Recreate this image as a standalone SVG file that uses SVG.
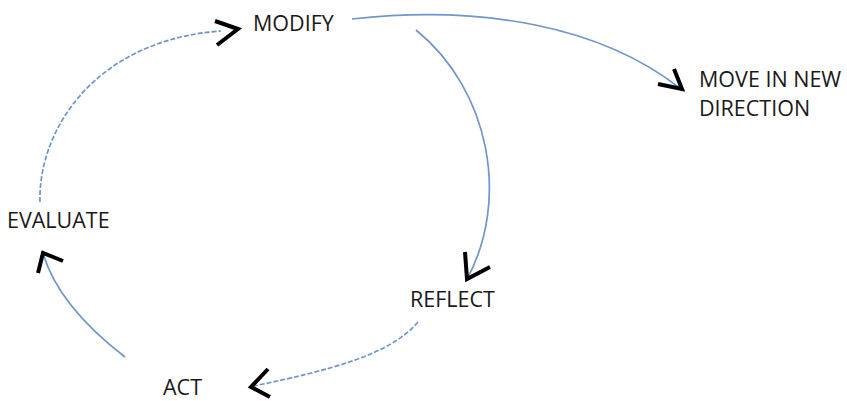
<svg xmlns="http://www.w3.org/2000/svg" width="847" height="401" viewBox="0 0 847 401">
<style>
.lbl{font-family:"Open Sans","Liberation Sans",sans-serif;font-size:21.5px;fill:#1a1a1a}
.c{fill:none;stroke:#6f95cc;stroke-width:1.7}
.d{stroke-dasharray:5 2}
.h{fill:none;stroke:#000;stroke-width:4;stroke-linecap:butt;stroke-linejoin:miter}
</style>
<rect width="847" height="401" fill="#fff"/>
<g id="connectors">
<path class="c d" d="M40,202 C38,130 95,40 221,31"/>
<path class="h" d="M215,21 L238,29 L217,45"/>
<path class="c" d="M352,19 C480,5 600,25 681,89"/>
<path class="h" d="M658,84 L682,89 L674,69"/>
<path class="c" d="M416,30 C490,90 510,200 467,279"/>
<path class="h" d="M465,252 L467,279 L490,267"/>
<path class="c d" d="M418,322 C390,355 330,370 254,386"/>
<path class="h" d="M268,369 L251,387 L270,397"/>
<path class="c" d="M125,357 C90,330 55,295 43,253"/>
<path class="h" d="M38,273 L43,253 L63,261"/>
</g>
<g id="modify"><text class="lbl" x="253" y="31">MODIFY</text></g>
<g id="move"><text class="lbl" x="699" y="87">MOVE IN NEW</text><text class="lbl" x="699" y="116">DIRECTION</text></g>
<g id="evaluate"><text class="lbl" x="7" y="228">EVALUATE</text></g>
<g id="reflect"><text class="lbl" x="410" y="307">REFLECT</text></g>
<g id="act"><text class="lbl" x="163" y="395">ACT</text></g>
</svg>
